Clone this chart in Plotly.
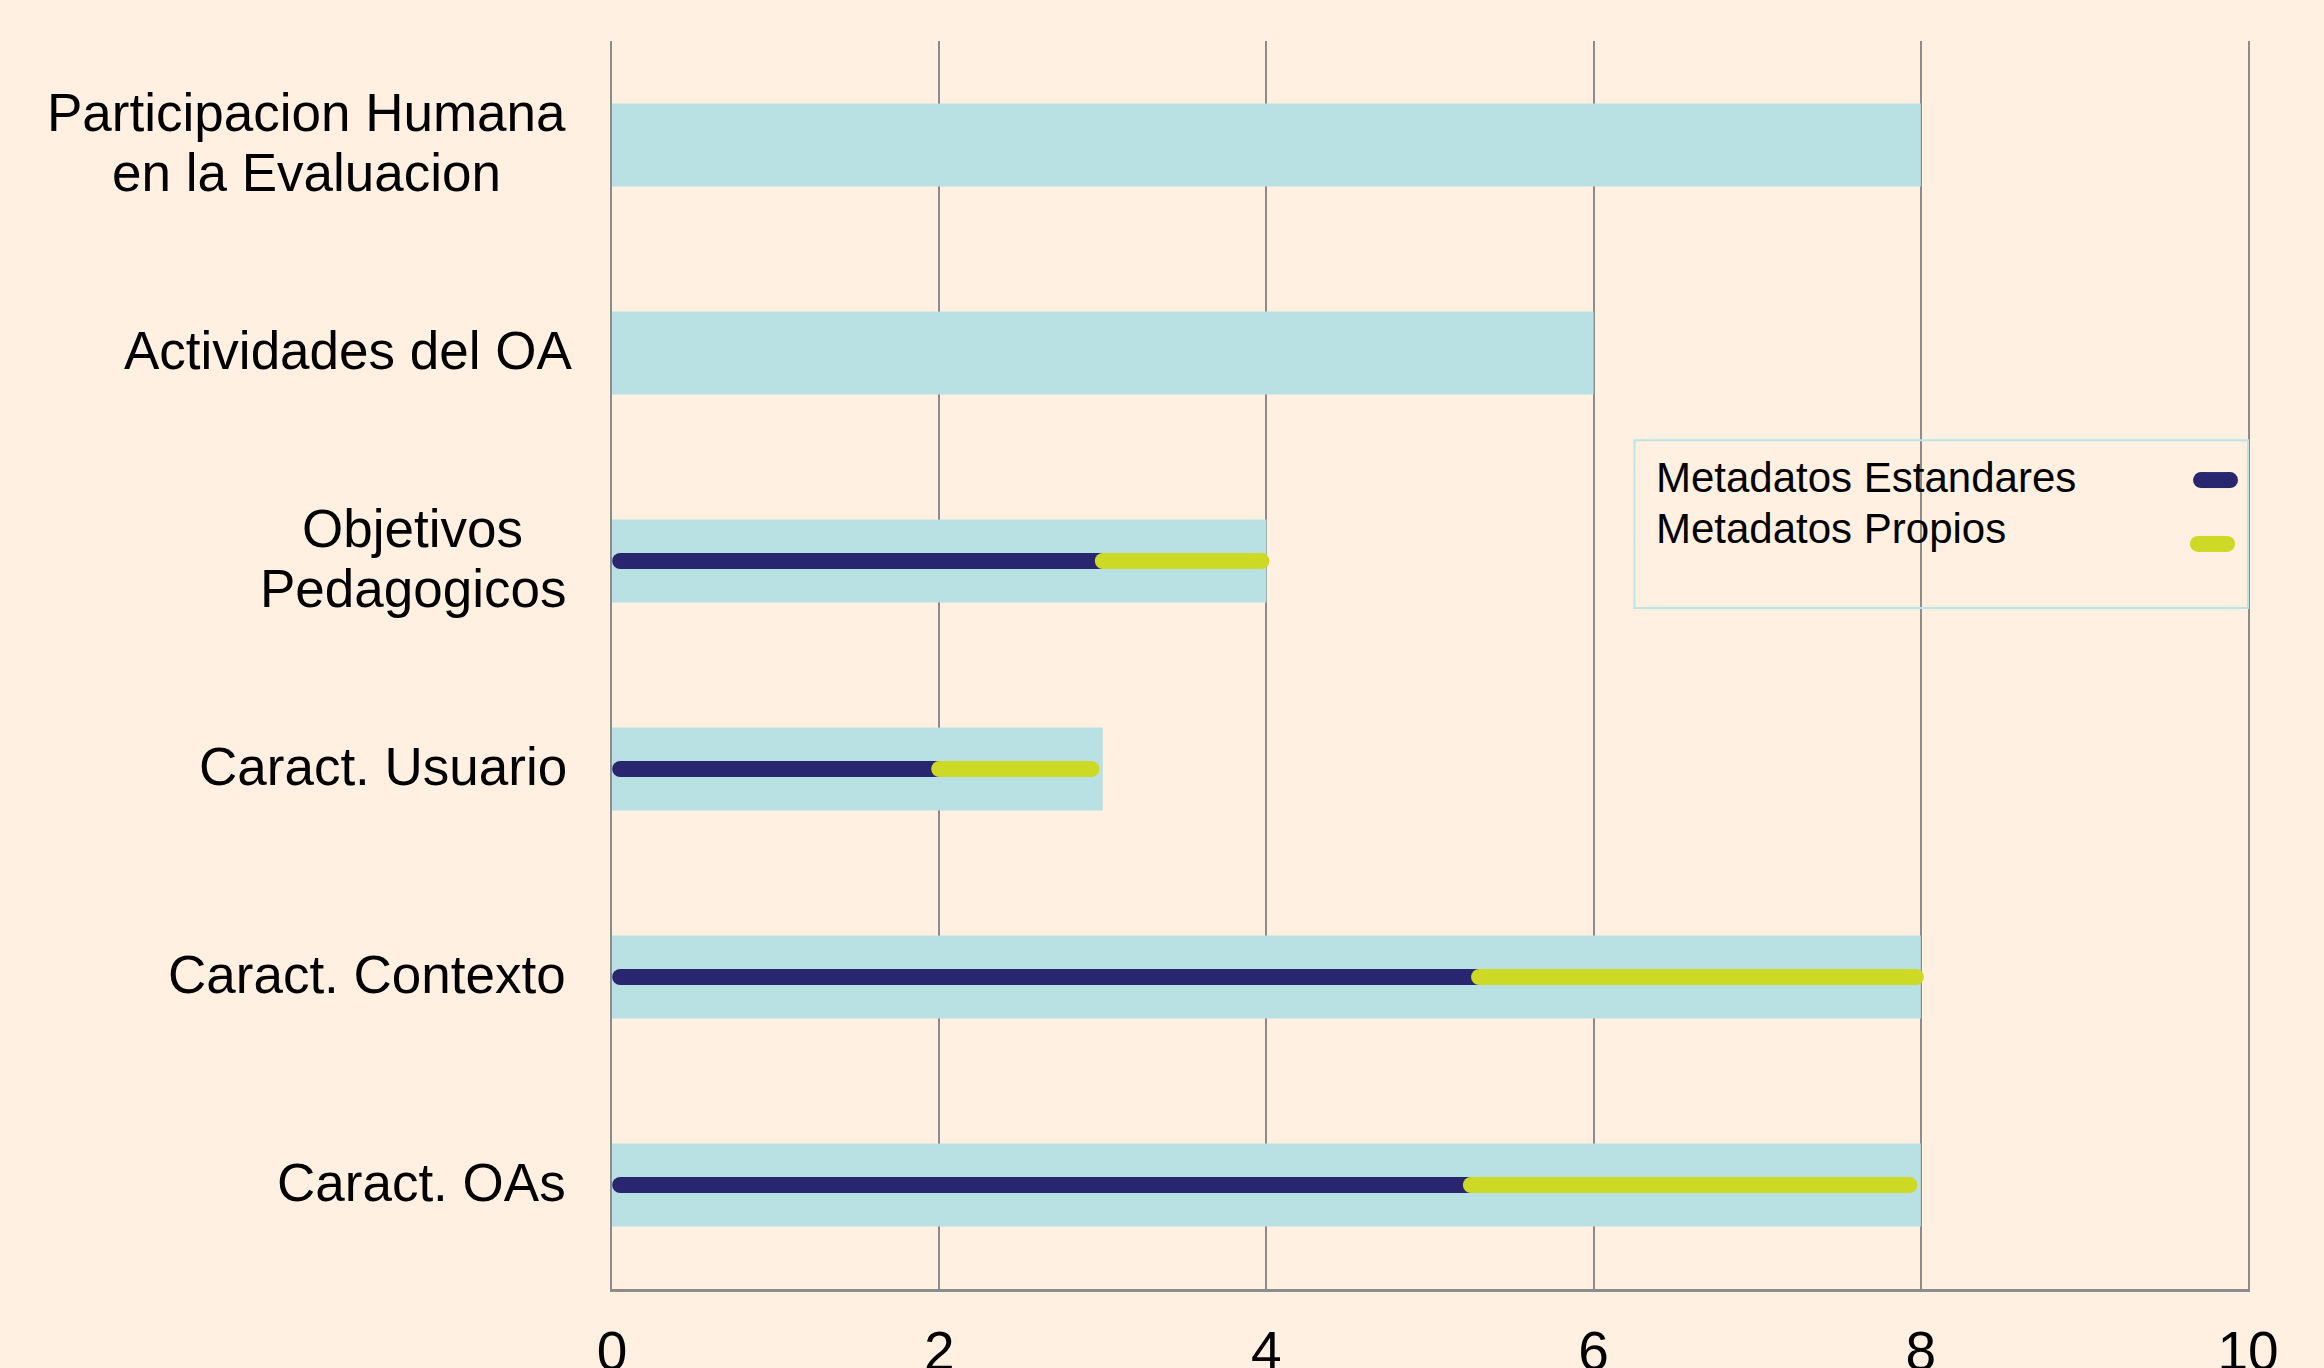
import plotly.graph_objects as go

# ---- data (bottom to top) ----
categories = [
    "Caract. OAs",
    "Caract. Contexto",
    "Caract. Usuario",
    "Objetivos<br>Pedagogicos",
    "Actividades del OA",
    "Participacion Humana<br>en la Evaluacion",
]
totales = [8, 8, 3, 4, 6, 8]
metadatos_estandares = [5.25, 5.3, 2.0, 3.0, None, None]   # end of navy segment
metadatos_propios = [7.93, 7.97, 2.93, 3.97, None, None]   # end of yellow segment
serie_nombres = ["Metadatos Estandares", "Metadatos Propios"]
x_ticks = [0, 2, 4, 6, 8, 10]

BG = "#FFF0E1"
BAR = "#B9E0E3"
NAVY = "#27266F"
YELLOW = "#CDD924"
GRID = "#8C8C8C"
FONT = "Liberation Sans, Arial, sans-serif"

# Arial / Liberation Sans advance widths (1/1000 em) for label layout
_W = {" ": 278, "P": 667, "a": 556, "r": 333, "t": 278, "i": 222, "c": 500, "p": 556,
      "o": 556, "n": 556, "H": 722, "u": 556, "m": 833, "e": 556, "l": 222, "E": 667,
      "v": 500, "O": 778, "b": 556, "j": 222, "s": 500, "d": 556, "g": 556}


def text_width(s, size):
    return sum(_W.get(ch, 556) for ch in s) * size / 1000.0


fig = go.Figure()

fig.add_trace(go.Bar(
    y=list(range(len(categories))), x=totales, orientation="h",
    width=0.4, marker=dict(color=BAR, line=dict(width=0)),
    showlegend=False, hoverinfo="skip",
))

LW = 16
for i, (s, p) in enumerate(zip(metadatos_estandares, metadatos_propios)):
    if s is None:
        continue
    fig.add_trace(go.Scatter(
        x=[0.05, s], y=[i, i], mode="lines+markers",
        line=dict(color=NAVY, width=LW),
        marker=dict(color=NAVY, size=LW, line=dict(width=0)),
        showlegend=False, name=serie_nombres[0], hoverinfo="skip",
    ))
    fig.add_trace(go.Scatter(
        x=[s, p], y=[i, i], mode="lines+markers",
        line=dict(color=YELLOW, width=LW),
        marker=dict(color=YELLOW, size=LW, line=dict(width=0)),
        showlegend=False, name=serie_nombres[1], hoverinfo="skip",
    ))

# category labels: block right-aligned to the axis, lines centered within block
annotations = []
LABEL_SIZE = 53
LINE_GAP = 60
RIGHT_GAP = 46
for i, c in enumerate(categories):
    lines = c.split("<br>")
    n = len(lines)
    block_w = max(text_width(ln, LABEL_SIZE) for ln in lines)
    for k, ln in enumerate(lines):
        yshift = ((n - 1) / 2 - k) * LINE_GAP + 3
        annotations.append(dict(
            x=0, xref="paper", y=i, yref="y", xanchor="center", yanchor="middle",
            xshift=-RIGHT_GAP - block_w / 2, yshift=yshift, text=ln, showarrow=False,
            font=dict(family=FONT, size=LABEL_SIZE, color="#000000"),
        ))

# custom legend (text left, symbol right)
shapes = [dict(type="rect", xref="paper", yref="paper",
               x0=0.625, x1=1.0, y0=0.5457, y1=0.680,
               line=dict(color="#BDE3E6", width=2), fillcolor="rgba(0,0,0,0)", layer="above")]
legend_rows = [(serie_nombres[0], NAVY, 0.6506, 0.6482, 0.9713, 0.9890),
               (serie_nombres[1], YELLOW, 0.609, 0.597, 0.9694, 0.9872)]
for name, col, ty, sy, sx0, sx1 in legend_rows:
    annotations.append(dict(
        x=0.637, xref="paper", y=ty, yref="paper", xanchor="left", yanchor="middle",
        text=name, showarrow=False, font=dict(family=FONT, size=42, color="#000000"),
    ))
    shapes.append(dict(type="line", xref="paper", yref="paper",
                       x0=sx0, x1=sx1, y0=sy, y1=sy,
                       line=dict(color=col, width=16), layer="above"))
    for cx in (sx0, sx1):
        shapes.append(dict(type="circle", xref="paper", yref="paper",
                           xsizemode="pixel", ysizemode="pixel",
                           xanchor=cx, yanchor=sy, x0=-8, x1=8, y0=-8, y1=8,
                           fillcolor=col, line=dict(width=0), layer="above"))

fig.update_layout(
    width=2324, height=1368,
    margin=dict(l=612, r=76, t=41, b=79),
    paper_bgcolor=BG, plot_bgcolor=BG,
    annotations=annotations, shapes=shapes,
    showlegend=False,
    xaxis=dict(
        range=[0, 10], tickvals=x_ticks, showgrid=True, gridcolor=GRID, gridwidth=1.5,
        zeroline=False, showline=True, linecolor=GRID, linewidth=3,
        ticks="outside", ticklen=12, tickcolor=BG, automargin=False,
        tickfont=dict(family=FONT, size=55, color="#000000"),
    ),
    yaxis=dict(
        range=[-0.5, 5.5], showticklabels=False, showgrid=False, zeroline=False,
        showline=True, mirror=True, linecolor=GRID, linewidth=1.5, automargin=False,
    ),
)

fig.write_html(
    "out.html",
    config={"displayModeBar": False},
    post_script="document.body.style.margin='0';document.body.style.overflow='hidden';"
                "document.body.style.background='%s';" % BG,
)
